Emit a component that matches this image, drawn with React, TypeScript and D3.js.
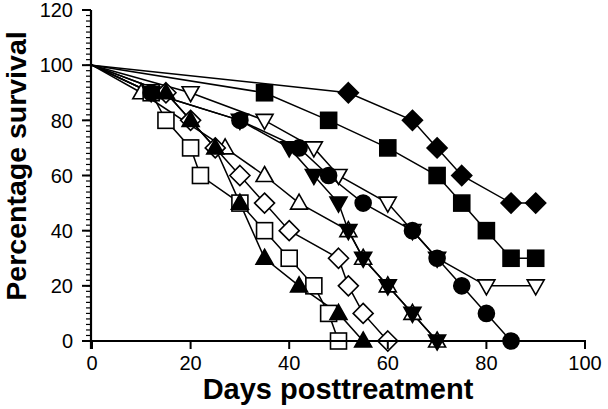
import React from 'react';
import * as d3 from 'd3';

// survival curves, [day, % surviving]
const filledDiamond: [number, number][] = [[0, 100], [52, 90], [65, 80], [70, 70], [75, 60], [85, 50], [90, 50]];
const filledSquare: [number, number][] = [[0, 100], [35, 90], [48, 80], [60, 70], [70, 60], [75, 50], [80, 40], [85, 30], [90, 30]];
const openDown: [number, number][] = [[0, 100], [20, 90], [35, 80], [45, 70], [50, 60], [60, 50], [65, 40], [70, 30], [80, 20], [90, 20]];
const filledCircle: [number, number][] = [[0, 100], [12, 90], [30, 80], [42, 70], [48, 60], [55, 50], [65, 40], [70, 30], [75, 20], [80, 10], [85, 0]];
const filledDown: [number, number][] = [[0, 100], [12, 90], [30, 80], [40, 70], [45, 60], [50, 50], [52, 40], [55, 30], [60, 20], [65, 10], [70, 0]];
const openUp: [number, number][] = [[0, 100], [10, 90], [27, 70], [35, 60], [42, 50], [52, 40], [55, 30], [60, 20], [65, 10], [70, 0]];
const openDiamond: [number, number][] = [[0, 100], [15, 90], [20, 80], [25, 70], [30, 60], [35, 50], [40, 40], [50, 30], [52, 20], [55, 10], [60, 0]];
const openSquare: [number, number][] = [[0, 100], [12, 90], [15, 80], [20, 70], [22, 60], [30, 50], [35, 40], [40, 30], [45, 20], [48, 10], [50, 0]];
const filledUp: [number, number][] = [[0, 100], [15, 90], [20, 80], [25, 70], [30, 50], [35, 30], [42, 20], [50, 10], [55, 0]];

const xTicks = [0, 20, 40, 60, 80, 100];
const yTicks = [0, 20, 40, 60, 80, 100, 120];

const FONT = '"Liberation Sans", Arial, sans-serif';

const x = d3.scaleLinear().domain([0, 100]).range([92, 585]);
const y = d3.scaleLinear().domain([0, 120]).range([341, 10]);

type Shape = 'diamond' | 'square' | 'circle' | 'up' | 'down';

const marker = (shape: Shape, filled: boolean, cx: number, cy: number, key: string) => {
  const fill = filled ? '#000' : '#fff';
  const common = { fill, stroke: '#000', strokeWidth: 1.6 };
  if (shape === 'circle') return <circle key={key} cx={cx} cy={cy} r={8} {...common} />;
  if (shape === 'square') return <rect key={key} x={cx - 8} y={cy - 8} width={16} height={16} {...common} />;
  if (shape === 'diamond')
    return <path key={key} d={`M${cx},${cy - 10}L${cx + 10},${cy}L${cx},${cy + 10}L${cx - 10},${cy}Z`} {...common} />;
  if (shape === 'up')
    return <path key={key} d={`M${cx},${cy - 9}L${cx + 8.5},${cy + 6}L${cx - 8.5},${cy + 6}Z`} {...common} />;
  return <path key={key} d={`M${cx},${cy + 9}L${cx + 8.5},${cy - 6}L${cx - 8.5},${cy - 6}Z`} {...common} />;
};

const series: { data: [number, number][]; shape: Shape; filled: boolean }[] = [
  { data: openDown, shape: 'down', filled: false },
  { data: openUp, shape: 'up', filled: false },
  { data: openDiamond, shape: 'diamond', filled: false },
  { data: openSquare, shape: 'square', filled: false },
  { data: filledDiamond, shape: 'diamond', filled: true },
  { data: filledSquare, shape: 'square', filled: true },
  { data: filledCircle, shape: 'circle', filled: true },
  { data: filledDown, shape: 'down', filled: true },
  { data: filledUp, shape: 'up', filled: true },
];

export default function App() {
  const line = d3.line<[number, number]>().x(d => x(d[0])).y(d => y(d[1]));
  const minor = d3.range(0, 121, 2);

  return (
    <div style={{ position: 'absolute', left: 0, top: 0 }}>
      <svg width={608} height={409} style={{ display: 'block', background: '#fff' }}>
        {/* lines */}
        {series.map((s, i) => (
          <path key={'l' + i} d={line(s.data) || ''} fill="none" stroke="#000" strokeWidth={1.5} />
        ))}
        {/* markers, skip the shared origin */}
        {series.map((s, i) =>
          s.data.slice(1).map((d, j) => marker(s.shape, s.filled, x(d[0]), y(d[1]), `m${i}-${j}`))
        )}

        {/* y axis */}
        <line x1={91} x2={91} y1={y(120)} y2={y(0) + 8} stroke="#000" strokeWidth={2.2} />
        {minor.map(v => (
          <line key={'yn' + v} x1={86} x2={91} y1={y(v)} y2={y(v)} stroke="#000" strokeWidth={1.2} />
        ))}
        {yTicks.map(v => (
          <g key={'yt' + v}>
            <line x1={82} x2={91} y1={y(v)} y2={y(v)} stroke="#000" strokeWidth={2} />
            <text x={73} y={y(v)} dy="0.36em" textAnchor="end" fontFamily={FONT} fontSize={20}>{v}</text>
          </g>
        ))}

        {/* x axis */}
        <line x1={91} x2={x(100) + 1} y1={341} y2={341} stroke="#000" strokeWidth={2.2} />
        {xTicks.map(v => (
          <g key={'xt' + v}>
            <line x1={x(v)} x2={x(v)} y1={341} y2={349} stroke="#000" strokeWidth={2} />
            <text x={x(v)} y={370} textAnchor="middle" fontFamily={FONT} fontSize={20}>{v}</text>
          </g>
        ))}

        <text x={338} y={399} textAnchor="middle" fontFamily={FONT} fontSize={29} fontWeight="bold">
          Days posttreatment
        </text>
        <text transform="translate(26,166) rotate(-90)" textAnchor="middle" fontFamily={FONT} fontSize={28.5} fontWeight="bold">
          Percentage survival
        </text>
      </svg>
    </div>
  );
}
